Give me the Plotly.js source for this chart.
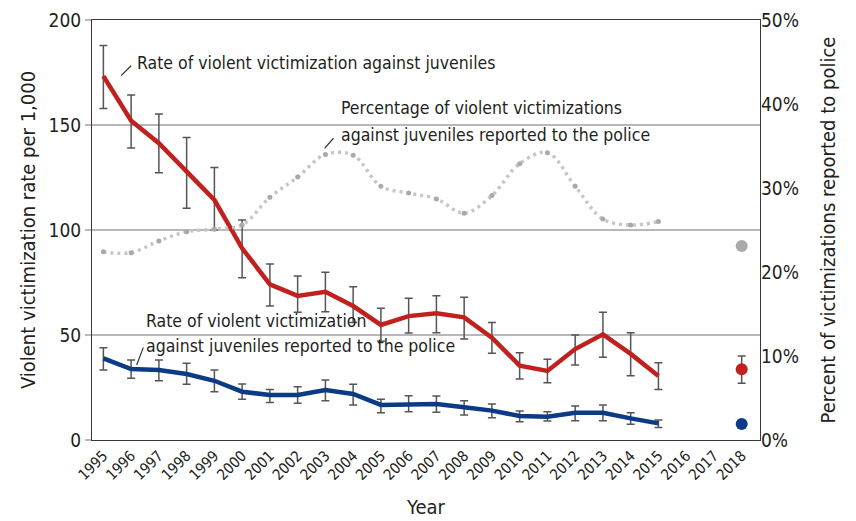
<!DOCTYPE html>
<html>
<head>
<meta charset="utf-8">
<script src="https://cdn.plot.ly/plotly-3.0.1.min.js"></script>
<style>html,body{margin:0;padding:0;background:#fff;}#chart{width:856px;height:521px;}</style>
</head>
<body>
<div id="chart"></div>
<script>
// ---- data ----
const years = [1995,1996,1997,1998,1999,2000,2001,2002,2003,2004,2005,2006,2007,2008,2009,2010,2011,2012,2013,2014,2015];
const tickYears = [1995,1996,1997,1998,1999,2000,2001,2002,2003,2004,2005,2006,2007,2008,2009,2010,2011,2012,2013,2014,2015,2016,2017,2018];
const leftTicks = [0, 50, 100, 150, 200];
const rightTicks = [0, 10, 20, 30, 40, 50];
const rightTickText = ['0%', '10%', '20%', '30%', '40%', '50%'];

const violentRate = [173.3,152,141.3,127.8,114.3,91.3,74.1,68.6,70.6,63.8,54.8,59,60.3,58.4,48.7,35.4,32.9,43.3,50.3,41,30.5];
const violentUpper = [187.8,164.3,155.2,144.1,129.8,104.8,83.8,78.1,79.9,73,62.7,67.5,68.7,68,55.9,41.6,38.4,50,60.8,51.1,36.8];
const violentLower = [157.8,139,127.3,110.3,100,77.3,63.8,60.8,61.1,56,47,51,51.1,48.1,41.3,29,27.3,35.7,39.4,30.6,24.1];

const reportedRate = [38.9,33.8,33.3,31.4,28.2,23,21.4,21.4,23.8,21.9,16.7,17.1,17.1,15.6,14,11.4,11.1,13,13,10.3,7.9];
const reportedUpper = [43.9,38.1,38.1,36.5,33.3,26.7,24.1,25.4,28.6,26.5,19.4,21.1,21,18.7,17.1,13.8,13.5,16.2,16.7,13,9.5];
const reportedLower = [33.3,29.4,28.2,26.5,23,19.4,17.8,17.5,18.7,16.7,13,13.5,13.2,11.9,10.6,8.7,9,9.2,9.2,7.5,5.9];

const percentReported = [22.4,22.3,23.7,24.8,25.1,25.6,28.9,31.3,34,33.9,30.2,29.4,28.7,27,29.1,32.9,34.2,30.2,26.3,25.6,26];

const year2018 = [2018];
const violent2018 = [33.7], violent2018Upper = [40], violent2018Lower = [27];
const reported2018 = [7.6];
const percent2018 = [23.1];

const labelViolentLines = ['Rate of violent victimization against juveniles'];
const labelPercentLines = ['Percentage of violent victimizations', 'against juveniles reported to the police'];
const labelReportedLines = ['Rate of violent victimization', 'against juveniles reported to the police'];

// ---- styles ----
const FONT = '"DejaVu Sans Condensed", "Liberation Sans Narrow", sans-serif';
const TXT = '#231f20';
const RED = '#c0201e';
const BLUE = '#0b3a86';
const GRAY = '#c6c6c6';
const ERR = '#555555';

const diff = (a, b) => a.map((v, i) => v - b[i]);

const traces = [
  {
    x: years, y: percentReported, yaxis: 'y2', type: 'scatter', mode: 'lines+markers',
    line: {color: GRAY, width: 3.5, dash: '3px,4px', shape: 'spline', smoothing: 1},
    marker: {color: '#a9a9a9', size: 5},
    hoverinfo: 'skip'
  },
  {
    x: years, y: violentRate, type: 'scatter', mode: 'lines',
    line: {color: RED, width: 4.5},
    error_y: {type: 'data', symmetric: false, array: diff(violentUpper, violentRate), arrayminus: diff(violentRate, violentLower), color: ERR, thickness: 1.5, width: 4}
  },
  {
    x: years, y: reportedRate, type: 'scatter', mode: 'lines',
    line: {color: BLUE, width: 4.5},
    error_y: {type: 'data', symmetric: false, array: diff(reportedUpper, reportedRate), arrayminus: diff(reportedRate, reportedLower), color: ERR, thickness: 1.5, width: 4}
  },
  {
    x: year2018, y: percent2018, yaxis: 'y2', type: 'scatter', mode: 'markers',
    marker: {color: '#aaaaaa', size: 12}
  },
  {
    x: year2018, y: violent2018, type: 'scatter', mode: 'markers',
    marker: {color: RED, size: 12},
    error_y: {type: 'data', symmetric: false, array: diff(violent2018Upper, violent2018), arrayminus: diff(violent2018, violent2018Lower), color: ERR, thickness: 1.5, width: 4}
  },
  {
    x: year2018, y: reported2018, type: 'scatter', mode: 'markers',
    marker: {color: BLUE, size: 12}
  }
];

const annFont = {family: FONT, size: 17.5, color: TXT};
function lineAnns(lines, x, yFirst, step) {
  return lines.map((t, i) => ({
    x: x, y: yFirst - i * step, xref: 'x', yref: 'y', text: t, showarrow: false,
    xanchor: 'left', yanchor: 'middle', align: 'left', font: annFont
  }));
}

const layout = {
  width: 856, height: 521,
  margin: {l: 92, r: 96, t: 20, b: 81},
  paper_bgcolor: '#fff', plot_bgcolor: '#fff',
  showlegend: false,
  font: {family: FONT, color: TXT},
  xaxis: {
    range: [1994.59, 2018.66], tickvals: tickYears, ticktext: tickYears.map(String),
    tickangle: -45, tickfont: {family: FONT, size: 15, color: TXT},
    showgrid: false, zeroline: false, showline: true, linecolor: '#3a3a3a', linewidth: 1, mirror: true,
    ticks: '', title: {text: 'Year', font: {family: FONT, size: 20, color: TXT}, standoff: 17}
  },
  yaxis: {
    range: [0, 200], tickvals: leftTicks,
    tickfont: {family: FONT, size: 19, color: TXT},
    showgrid: true, gridcolor: '#b8b8b8', gridwidth: 1.5, zeroline: false,
    showline: true, linecolor: '#3a3a3a', linewidth: 1, mirror: true,
    ticks: 'outside', ticklen: 6, tickcolor: '#b8b8b8', tickwidth: 1.5,
    title: {text: 'Violent victimization rate per 1,000', font: {family: FONT, size: 20, color: TXT}, standoff: 7}
  },
  yaxis2: {
    range: [0, 50], overlaying: 'y', side: 'right', tickmode: 'array', tickvals: rightTicks, ticktext: rightTickText,
    tickfont: {family: FONT, size: 19, color: TXT},
    showgrid: false, zeroline: false, showline: false, ticks: '',
    title: {text: 'Percent of victimizations reported to police', font: {family: FONT, size: 20, color: TXT}, standoff: 22}
  },
  annotations: [
    ...lineAnns(labelViolentLines, 1996.14, 179.5, 0),
    ...lineAnns(labelPercentLines, 2003.5, 158.1, 12.9),
    ...lineAnns(labelReportedLines, 1996.48, 56.7, 11.9)
  ],
  shapes: [
    {type: 'line', xref: 'x', yref: 'y', x0: 1995.64, y0: 173.5, x1: 1996.0, y1: 178.2, line: {color: '#333', width: 1.2}},
    {type: 'line', xref: 'x', yref: 'y', x0: 2002.97, y0: 138.9, x1: 2003.29, y1: 143.7, line: {color: '#333', width: 1.2}},
    {type: 'line', xref: 'x', yref: 'y', x0: 1996.2, y0: 35.7, x1: 1996.44, y1: 44.1, line: {color: '#333', width: 1.2}}
  ]
};

Plotly.newPlot('chart', traces, layout, {displayModeBar: false, staticPlot: true});
</script>
</body>
</html>
